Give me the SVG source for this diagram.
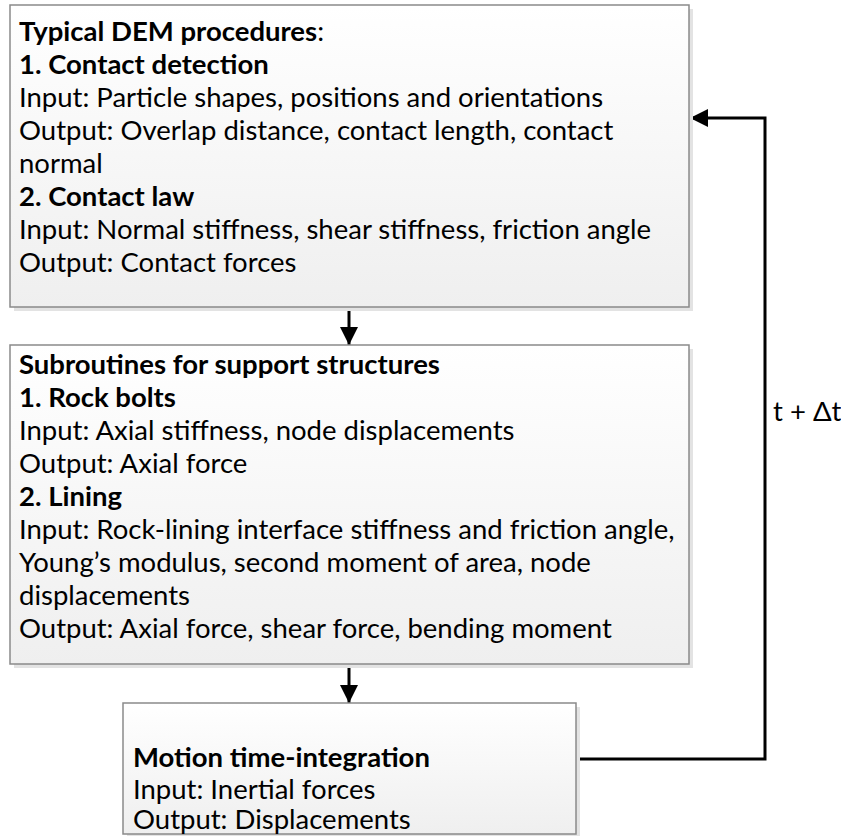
<svg xmlns="http://www.w3.org/2000/svg" width="841" height="836" viewBox="0 0 841 836">
<defs>
<linearGradient id="g" x1="0" y1="0" x2="0" y2="1">
<stop offset="0" stop-color="#ffffff"/>
<stop offset="1" stop-color="#efefef"/>
</linearGradient>
<marker id="ah" markerWidth="18" markerHeight="18" refX="18" refY="9" orient="auto" markerUnits="userSpaceOnUse">
<path d="M0,0 L18,9 L0,18 z" fill="#000"/>
</marker>
</defs>
<style>
.shadow{fill:#e3e3e3}
.box{fill:url(#g);stroke:#8a8a8a;stroke-width:1.5}
text{font-family:Lato,"Noto Sans","Liberation Sans",sans-serif;font-size:27.5px;fill:#000}
.b{font-weight:bold}
.c{fill:none;stroke:#000;stroke-width:3}
</style>
<g id="connectors">
<line class="c" x1="349" y1="307" x2="349" y2="345" marker-end="url(#ah)"/>
<line class="c" x1="349" y1="664" x2="349" y2="703" marker-end="url(#ah)"/>
<polyline class="c" points="576,759 765,759 765,118 690,118" marker-end="url(#ah)"/>
<text x="773" y="421">t + Δt</text>
</g>
<g id="node-dem">
<rect class="shadow" x="14" y="9" width="679" height="302"/>
<rect class="box" x="10" y="5" width="679" height="302"/>
<text x="19" y="41"><tspan class="b">Typical DEM procedures</tspan>:</text>
<text x="19" y="74" class="b">1. Contact detection</text>
<text x="19" y="107">Input: Particle shapes, positions and orientations</text>
<text x="19" y="140">Output: Overlap distance, contact length, contact</text>
<text x="19" y="173">normal</text>
<text x="19" y="206" class="b">2. Contact law</text>
<text x="19" y="239">Input: Normal stiffness, shear stiffness, friction angle</text>
<text x="19" y="272">Output: Contact forces</text>
</g>
<g id="node-support">
<rect class="shadow" x="14" y="349" width="679" height="319"/>
<rect class="box" x="10" y="345" width="679" height="319"/>
<text x="19" y="374" class="b">Subroutines for support structures</text>
<text x="19" y="407" class="b">1. Rock bolts</text>
<text x="19" y="440">Input: Axial stiffness, node displacements</text>
<text x="19" y="473">Output: Axial force</text>
<text x="19" y="506" class="b">2. Lining</text>
<text x="19" y="539">Input: Rock-lining interface stiffness and friction angle,</text>
<text x="19" y="572">Young’s modulus, second moment of area, node</text>
<text x="19" y="605">displacements</text>
<text x="19" y="638">Output: Axial force, shear force, bending moment</text>
</g>
<g id="node-motion">
<rect class="shadow" x="127" y="707" width="453" height="131"/>
<rect class="box" x="123" y="703" width="453" height="131"/>
<text x="133" y="767" class="b">Motion time-integration</text>
<text x="133" y="799">Input: Inertial forces</text>
<text x="133" y="829">Output: Displacements</text>
</g>
</svg>
